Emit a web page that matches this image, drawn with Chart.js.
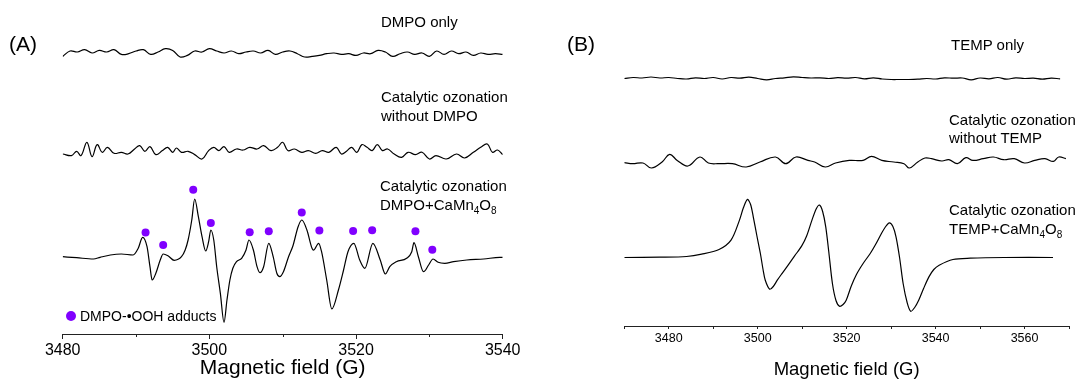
<!DOCTYPE html>
<html>
<head>
<meta charset="utf-8">
<script src="https://cdn.jsdelivr.net/npm/chart.js@4.4.1/dist/chart.umd.min.js"></script>
<style>
  body { margin: 0; background: #fff; font-family: "Liberation Sans", Arial, sans-serif; }
  #wrap { position: relative; width: 1080px; height: 381px; overflow: hidden; }
  .panel { position: absolute; top: 0; width: 540px; height: 381px; }
  .lbl { position: absolute; font-size: 15px; line-height: 20px; color: #000; white-space: nowrap; z-index: 2; }
  .lbl sub { font-size: 10px; vertical-align: -4px; line-height: 0; }
  .tag { position: absolute; font-size: 21px; line-height: 24px; z-index: 2; }
  .dot { position: absolute; width: 10px; height: 10px; border-radius: 50%; background: #8000ff; z-index: 2; }
</style>
</head>
<body>
<div id="wrap">
  <div class="panel" style="left:0"><canvas id="chartA" width="540" height="381"></canvas></div>
  <div class="panel" style="left:540px"><canvas id="chartB" width="540" height="381"></canvas></div>

  <div class="tag" style="left:9px;top:32px">(A)</div>
  <div class="tag" style="left:567px;top:32px">(B)</div>

  <div class="lbl" style="left:381px;top:12px">DMPO only</div>
  <div class="lbl" style="left:381px;top:87px">Catalytic ozonation</div>
  <div class="lbl" style="left:381px;top:106px">without DMPO</div>
  <div class="lbl" style="left:380px;top:176px">Catalytic ozonation</div>
  <div class="lbl" style="left:380px;top:195px">DMPO+CaMn<sub>4</sub>O<sub>8</sub></div>
  <div class="dot" style="left:66px;top:311px"></div>
  <div class="lbl" style="left:80px;top:306px;font-size:14px">DMPO-&#8226;OOH adducts</div>

  <div class="lbl" style="left:951px;top:35px">TEMP only</div>
  <div class="lbl" style="left:949px;top:110px">Catalytic ozonation</div>
  <div class="lbl" style="left:949px;top:128px">without TEMP</div>
  <div class="lbl" style="left:949px;top:200px">Catalytic ozonation</div>
  <div class="lbl" style="left:949px;top:219px">TEMP+CaMn<sub>4</sub>O<sub>8</sub></div>
</div>

<script>
// Panel A: DMPO spin trapping, field in G, intensity in arbitrary units
const dmpoOnlyField = [3480, 3481, 3482, 3483, 3484, 3485, 3486, 3487, 3488, 3489,
  3490, 3491, 3492, 3493, 3494, 3495, 3496, 3497, 3498, 3499,
  3500, 3501, 3502, 3503, 3504, 3505, 3506, 3507, 3508, 3509,
  3510, 3511, 3512, 3513, 3514, 3515, 3516, 3517, 3518, 3519,
  3520, 3521, 3522, 3523, 3524, 3525, 3526, 3527, 3528, 3529,
  3530, 3531, 3532, 3533, 3534, 3535, 3536, 3537, 3538, 3539, 3540];
const dmpoOnlyInt = [-2.7, 2.7, 1.7, 4, 0.7, 3.3, 1.7, 4, -0.7, 0,
  2.7, 4, -0.7, 1.7, 5, 3.3, -3.3, -1.7, 2.7, 1.7,
  5, 2.7, 0.7, 2.7, 0, 1.7, 2.7, 0.7, 3.3, -0.7,
  1.7, 2.7, 0, -3.3, -2.7, -1.7, 0, 0.7, -0.7, 0,
  -1.7, 0.7, 0, 3.3, 1.7, -2.7, 0, 1.7, -0.7, 0.7,
  -2.7, 2.7, -0.7, 2.7, 0, 1.7, -1.7, 0.7, -0.7, 0, -0.7];

const noDmpoField = [3480.0, 3481.2, 3481.9, 3482.5, 3483.3, 3484.0, 3484.7, 3485.4, 3486.1, 3487.0,
  3488.0, 3488.9, 3489.8, 3490.5, 3491.2, 3491.9, 3492.7, 3493.6, 3494.3, 3495.0,
  3495.5, 3496.2, 3497.1, 3498.0, 3499.0, 3499.9, 3500.6, 3501.3, 3502.0, 3502.7,
  3503.7, 3504.6, 3505.5, 3506.5, 3507.4, 3508.4, 3509.3, 3510.0, 3510.7, 3511.6,
  3512.6, 3513.5, 3514.5, 3515.4, 3516.3, 3517.3, 3518.0, 3518.7, 3519.4, 3520.1,
  3520.8, 3521.5, 3522.2, 3522.9, 3523.6, 3524.3, 3525.2, 3526.2, 3527.1, 3528.1,
  3529.0, 3530.0, 3530.9, 3532.3, 3533.7, 3534.8, 3536.0, 3537.0, 3537.9, 3538.6,
  3539.3, 3540.0];
const noDmpoInt = [-1.7, -3.3, 1, -3.3, 10, -4.3, 7.7, 0, 5, -1,
  0, -1.7, 3.3, 6.7, 1, 5.7, -2.3, 1.7, 5, 0,
  4.3, 0, 1, -2.3, -6.7, 1.7, 5, 1.7, 5.7, 0,
  3.3, 2.3, 5, 3.3, 6.7, 1.7, 5, 10, 1.7, 3.3,
  0, 1.7, -1, 1.7, 0, 5, -1.7, 1, 5, 0,
  7.7, 5, 1.7, 7.7, 1.7, 3.3, -1.7, -5, 0, -2.3,
  0, -6.7, -3.3, -6.7, -1.7, -5.7, 0, 5, 8.3, 0,
  2.3, -2.3];

const dmpoCatField = [3480.0, 3481.9, 3484.2, 3485.1, 3486.5, 3488.0, 3489.6, 3490.3, 3490.9, 3491.5,
  3491.9, 3492.2, 3492.7, 3493.3, 3493.7, 3494.4, 3495.2, 3496.2, 3496.7, 3497.1,
  3497.6, 3498.0, 3498.5, 3499.0, 3499.5, 3499.9, 3500.2, 3500.6, 3501.0, 3501.5,
  3502.0, 3502.4, 3502.8, 3503.2, 3503.7, 3504.4, 3505.0, 3505.4, 3506.0, 3506.5,
  3506.9, 3507.4, 3508.1, 3508.7, 3509.2, 3509.6, 3510.1, 3510.8, 3511.4, 3512.1,
  3512.6, 3513.3, 3514.0, 3514.2, 3514.9, 3515.3, 3516.0, 3516.7, 3517.6, 3518.3,
  3518.9, 3519.7, 3520.5, 3521.2, 3522.3, 3523.3, 3524.0, 3524.6, 3525.5, 3526.9,
  3527.6, 3527.9, 3528.5, 3529.2, 3529.9, 3530.5, 3531.2, 3532.1, 3533.3, 3535.1,
  3537.4, 3539.6, 3540.0];
const dmpoCatInt = [1.0, 0, -1.3, 0.4, 2.7, 3.7, 2.7, 9.4, 20.4, 11,
  -9, -22.3, -15.6, -2.3, 3.7, 1.7, -2.6, 1, 7.7, 17.7,
  37.7, 58.7, 41, 21, 6.7, 16, 27.7, 17.7, -9, -35.6,
  -64.6, -42.3, -22.3, -10.6, -4, -0.6, 7.7, 17.7, 7.7, -9,
  -15, -9, 14.4, 1, -15.6, -19, -14, 1, 12, 31,
  37.7, 27.7, 9.4, 7.5, 14.4, 6, -22.3, -51.2, -32.3, -12.3,
  6, 14.4, -2.3, -10.6, 14.4, -2.3, -16.3, -9, -4, -0.6,
  6, 15, 1, -14, -7.3, -1.3, -4.6, -5.6, -4, -2.3,
  -1.3, 0.4, 0.4];

// DMPO-OOH adduct markers
const adductField = [3491.3, 3493.7, 3497.8, 3500.2, 3505.5, 3508.1, 3512.6, 3515.0, 3519.6, 3522.2, 3528.1, 3530.4];
const adductInt = [25.1, 12.7, 68, 34.8, 25.4, 26.4, 45.2, 27.1, 26.8, 27.5, 26.4, 8];

// Panel B: TEMP spin trapping
const tempOnlyField = [3470, 3472, 3474, 3476, 3478, 3480, 3482, 3484, 3486, 3488,
  3490, 3492, 3494, 3496, 3498, 3500, 3502, 3504, 3506, 3508,
  3510, 3512, 3514, 3516, 3518, 3520, 3522, 3524, 3526, 3528,
  3530, 3532, 3534, 3536, 3538, 3540, 3542, 3544, 3546, 3548,
  3550, 3552, 3554, 3556, 3558, 3560, 3562, 3564, 3566, 3568];
const tempOnlyInt = [0, 1, 0.5, 1.5, 0.5, 1, 0, -0.5, 0.7, 0,
  1, -0.5, 1, 0.3, 1.3, 0, -1.3, 0, 0.7, 1.7,
  1, 0.5, 0.7, 0, 0.8, 0.3, 1, -0.3, 0.7, -0.5,
  -1, -1, -1, -0.7, 0, -0.5, 0.7, 0.3, 0.5, -1.3,
  0.5, -0.3, 1, -0.7, 0.7, 0, 0.3, -0.7, 0.3, -0.3];

const noTempField = [3470.0, 3471.9, 3474.2, 3476.1, 3478.5, 3480.2, 3481.9, 3484.3, 3487.0, 3488.9,
  3491.2, 3494.3, 3497.4, 3500.5, 3504.0, 3506.3, 3508.6, 3511.3, 3512.8, 3515.2,
  3517.5, 3520.6, 3523.7, 3525.6, 3527.9, 3530.6, 3532.9, 3534.1, 3536.0, 3537.6,
  3539.1, 3541.4, 3543.0, 3544.9, 3546.8, 3548.4, 3550.7, 3553.0, 3555.3, 3557.7,
  3560.0, 3562.3, 3564.6, 3566.5, 3567.7, 3569.3];
const noTempInt = [0, -1, -0.3, -5.3, 0.7, 8.3, 2.3, -3.3, 5.7, -0.3,
  -1, -1, -4.3, 0.7, 5.7, -1, 5.7, 2.3, 0.7, -4.3,
  -0.3, 2.3, 2.3, 6.3, 2.3, 0.7, -1, -5.3, 0.7, 4.7,
  4, 1.7, 3, -1, 5, 2.3, 4, 5.7, 3, 4,
  -0.3, 2.3, 4, 1.3, 5.7, 4];

const tempCatField = [3470, 3478, 3484, 3487.4, 3491.3, 3494.0, 3495.9, 3496.8, 3497.7, 3498.4,
  3499.0, 3499.8, 3500.6, 3501.2, 3501.7, 3502.7, 3503.5, 3504.4, 3505.5, 3506.8,
  3508.3, 3509.9, 3511.0, 3512.2, 3513.2, 3513.9, 3514.6, 3515.3, 3516.0, 3516.8,
  3517.6, 3518.4, 3519.2, 3519.9, 3521.0, 3522.2, 3523.7, 3525.3, 3526.5, 3527.7,
  3528.7, 3529.6, 3530.4, 3531.1, 3531.9, 3532.7, 3533.6, 3534.4, 3535.3, 3536.2,
  3537.3, 3538.5, 3539.6, 3540.8, 3543.9, 3547.8, 3555.5, 3566.4];
const tempCatInt = [0, 0.3, 1, 3.3, 8, 17.4, 37.4, 50, 58.1, 53,
  40.7, 22, 4, -12, -22.7, -31.7, -29, -22.7, -15.8, -7.8,
  1.6, 11.6, 21.5, 37.4, 49, 52.4, 46, 30.7, 5, -26,
  -43, -48.8, -47, -42.8, -29, -17, -6, 4, 13, 23,
  30.5, 34.7, 31, 20.7, 0, -26, -45, -53.8, -50, -42.8,
  -31, -19.4, -12, -7.7, -2, -0.7, 0, 0];

// vertical stacking of the traces (top, middle, bottom)
const offsetsA = [204, 105.4, 0];
const offsetsB = [179, 94.8, 0];
const minorTicksA = [3490, 3510, 3530];

Chart.defaults.font.family = '"Liberation Sans", Arial, sans-serif';
Chart.defaults.color = '#000';

function trace(xs, ys, off) {
  return xs.map((x, i) => ({ x: x, y: ys[i] + off }));
}

// tension > 0: cardinal spline, otherwise monotone cubic
function lineSet(data, tension) {
  return {
    data: data,
    borderColor: '#000',
    borderWidth: 1.2,
    pointRadius: 0,
    fill: false,
    tension: tension,
    cubicInterpolationMode: tension > 0 ? 'default' : 'monotone'
  };
}

// short minor ticks under the x axis
const minorTicks = {
  id: 'minorTicks',
  afterDraw(chart, args, opts) {
    if (!opts.values) return;
    const sx = chart.scales.x;
    const ctx = chart.ctx;
    ctx.save();
    ctx.strokeStyle = '#222';
    ctx.lineWidth = 1;
    opts.values.forEach((v) => {
      const px = Math.round(sx.getPixelForValue(v)) + 0.5;
      ctx.beginPath();
      ctx.moveTo(px, sx.top);
      ctx.lineTo(px, sx.top + 3);
      ctx.stroke();
    });
    ctx.restore();
  }
};

new Chart(document.getElementById('chartA'), {
  type: 'line',
  plugins: [minorTicks],
  data: {
    datasets: [
      lineSet(trace(dmpoOnlyField, dmpoOnlyInt, offsetsA[0]), 0.4),
      lineSet(trace(noDmpoField, noDmpoInt, offsetsA[1]), 0.4),
      lineSet(trace(dmpoCatField, dmpoCatInt, offsetsA[2]), 0),
      {
        data: trace(adductField, adductInt, offsetsA[2]),
        showLine: false,
        pointRadius: 4,
        pointBorderWidth: 0,
        pointBackgroundColor: '#8000ff'
      }
    ]
  },
  options: {
    responsive: false,
    animation: false,
    devicePixelRatio: 1,
    layout: { padding: { left: 62.7, right: 37.3, top: 10, bottom: 0 } },
    plugins: { legend: { display: false }, tooltip: { enabled: false }, minorTicks: { values: minorTicksA } },
    scales: {
      x: {
        type: 'linear',
        min: 3480,
        max: 3540,
        afterFit: (s) => { s.height = 47; },
        ticks: {
          stepSize: 20, padding: 2, maxRotation: 0, autoSkip: false, font: { size: 16 },
          callback: (v) => String(v)
        },
        grid: { drawOnChartArea: false, drawTicks: true, tickLength: 5, tickColor: '#222' },
        border: { display: true, color: '#222', width: 1 },
        title: { display: true, text: 'Magnetic field (G)', font: { size: 21 }, padding: { top: 0, bottom: 0 } }
      },
      y: { display: false, min: -76.3, max: 247.7 }
    }
  }
});

new Chart(document.getElementById('chartB'), {
  type: 'line',
  data: {
    datasets: [
      lineSet(trace(tempOnlyField, tempOnlyInt, offsetsB[0]), 0.4),
      lineSet(trace(noTempField, noTempInt, offsetsB[1]), 0.4),
      lineSet(trace(tempCatField, tempCatInt, offsetsB[2]), 0.3)
    ]
  },
  options: {
    responsive: false,
    animation: false,
    devicePixelRatio: 1,
    layout: { padding: { left: 84.3, right: 11, top: 10, bottom: 0 } },
    plugins: { legend: { display: false }, tooltip: { enabled: false } },
    scales: {
      x: {
        type: 'linear',
        min: 3470,
        max: 3570,
        afterFit: (s) => { s.height = 55; },
        ticks: {
          stepSize: 10, padding: 2, maxRotation: 0, autoSkip: false, font: { size: 12.5 },
          callback: (v) => (v % 20 === 0 ? String(v) : '')
        },
        grid: { drawOnChartArea: false, drawTicks: true, tickLength: 3, tickColor: '#222' },
        border: { display: true, color: '#222', width: 1 },
        title: { display: true, text: 'Magnetic field (G)', font: { size: 18.5 }, padding: { top: 0, bottom: 0 } }
      },
      y: { display: false, min: -68.5, max: 247.5 }
    }
  }
});
</script>
</body>
</html>
